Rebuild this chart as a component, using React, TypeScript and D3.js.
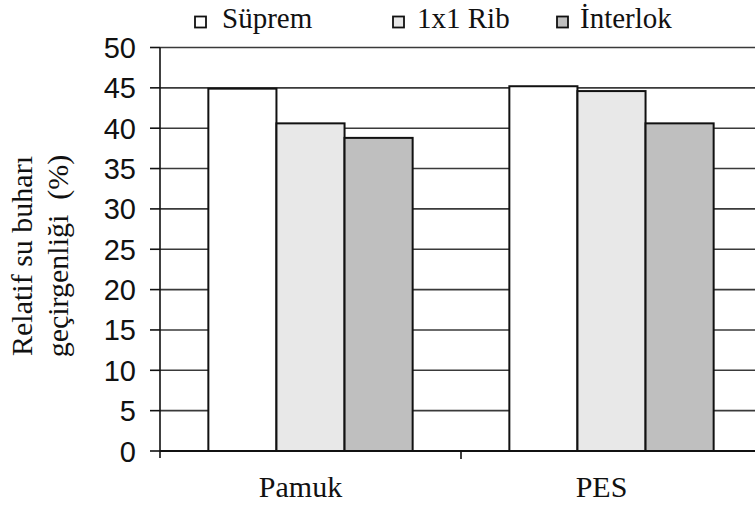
import React from "react";
import * as d3 from "d3";

const categories = ["Pamuk", "PES"];
const series = ["Süprem", "1x1 Rib", "İnterlok"];
const supremValues = [44.9, 45.2];
const ribValues = [40.6, 44.6];
const interlokValues = [38.8, 40.6];
const yTicks = [0, 5, 10, 15, 20, 25, 30, 35, 40, 45, 50];
const seriesFill = ["#ffffff", "#e8e8e8", "#bfbfbf"];

const W = 755;
const H = 507;

export default function App() {
  const valuesBySeries = [supremValues, ribValues, interlokValues];
  const y = d3.scaleLinear().domain([0, 50]).range([451, 47.5]);
  const x0 = d3.scaleBand<string>().domain(categories).range([160, 762]).paddingInner(0).paddingOuter(0);
  const x1 = d3
    .scaleBand<string>()
    .domain(series)
    .range([0, x0.bandwidth()])
    .paddingInner(0)
    .paddingOuter(0.71);

  const serif = "Liberation Serif, DejaVu Serif, serif";
  const sans = "Liberation Sans, Arial, sans-serif";

  const legendItems = [
    { box: 195, text: 222 },
    { box: 393, text: 417 },
    { box: 557, text: 580 },
  ];

  return (
    <svg width={W} height={H} style={{ position: "absolute", left: 0, top: 0, background: "#fff" }}>
      {/* gridlines */}
      {yTicks.slice(1).map((t) => (
        <line key={"g" + t} x1={160} x2={W} y1={y(t)} y2={y(t)} stroke="#3a3a3a" strokeWidth={1.6} />
      ))}
      {/* bars */}
      {categories.map((c, ci) => (
        <g key={c} transform={`translate(${x0(c)},0)`}>
          {series.map((s, si) => {
            const v = valuesBySeries[si][ci];
            return (
              <rect
                key={s}
                x={x1(s)}
                y={y(v)}
                width={x1.bandwidth()}
                height={y(0) - y(v)}
                fill={seriesFill[si]}
                stroke="#111"
                strokeWidth={2}
              />
            );
          })}
        </g>
      ))}
      {/* y axis */}
      <line x1={160} x2={160} y1={y(50)} y2={458} stroke="#111" strokeWidth={1.6} />
      {yTicks.map((t) => (
        <g key={"t" + t}>
          <line x1={150} x2={160} y1={y(t)} y2={y(t)} stroke="#111" strokeWidth={1.6} />
          <text x={136} y={y(t) + 10.5} textAnchor="end" style={{ fontFamily: sans, fontSize: 29 }} fill="#111">
            {t}
          </text>
        </g>
      ))}
      {/* x axis */}
      <line x1={160} x2={W} y1={y(0)} y2={y(0)} stroke="#111" strokeWidth={1.8} />
      {categories.map((c, i) => (
        <g key={"x" + c}>
          {i > 0 && <line x1={x0(c)} x2={x0(c)} y1={y(0)} y2={459} stroke="#111" strokeWidth={1.6} />}
          <text
            x={(x0(c) as number) + x0.bandwidth() / 2 - 10}
            y={497}
            textAnchor="middle"
            style={{ fontFamily: serif, fontSize: 30 }}
            fill="#111"
          >
            {c}
          </text>
        </g>
      ))}
      {/* y axis title */}
      <g transform="translate(32,256) rotate(-90)">
        <text x={0} y={0} textAnchor="middle" style={{ fontFamily: serif, fontSize: 30 }} fill="#111">
          Relatif su buharı
        </text>
        <text x={0} y={36} textAnchor="middle" style={{ fontFamily: serif, fontSize: 30, whiteSpace: "pre" }} fill="#111">
          {"geçirgenliği  (%)"}
        </text>
      </g>
      {/* legend */}
      {series.map((s, i) => (
        <g key={"l" + s}>
          <rect
            x={legendItems[i].box}
            y={16.5}
            width={11}
            height={11}
            fill={seriesFill[i]}
            stroke="#111"
            strokeWidth={1.8}
          />
          <text x={legendItems[i].text} y={28} style={{ fontFamily: serif, fontSize: 29 }} fill="#111">
            {s}
          </text>
        </g>
      ))}
    </svg>
  );
}
